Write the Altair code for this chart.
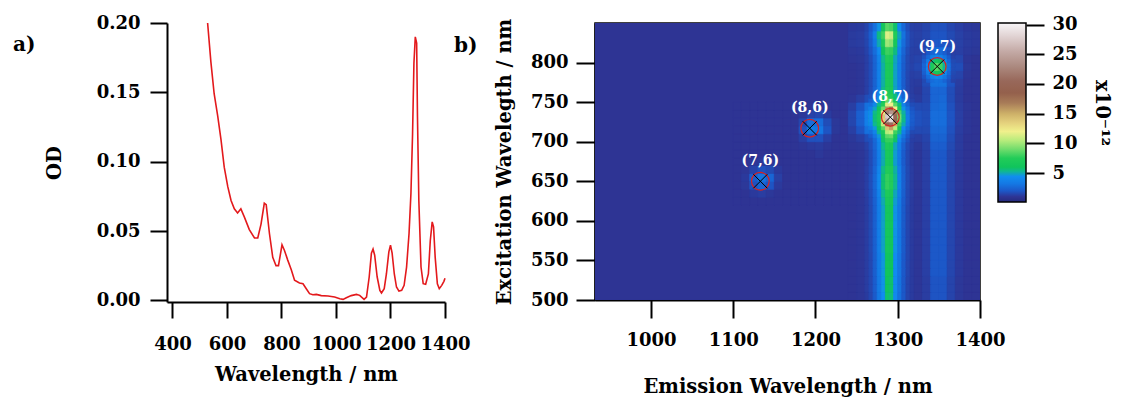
import altair as alt
import pandas as pd

SERIF = "DejaVu Serif"

# ---------------- panel a: absorption spectrum ----------------
abs_nm = [529, 541, 553, 566, 578, 590, 603, 615, 627, 639, 651, 664, 682, 701, 713,
          725, 737, 744, 756, 768, 780, 789, 802, 811, 823, 836, 848, 866, 879, 891,
          903, 915, 928, 946, 971, 995, 1014, 1026, 1038, 1056, 1075, 1087, 1103, 1112,
          1122, 1130, 1136, 1142, 1151, 1161, 1167, 1177, 1185, 1194, 1200, 1206, 1214,
          1222, 1231, 1241, 1250, 1259, 1268, 1275, 1281, 1286, 1291, 1296, 1299, 1304,
          1312, 1320, 1329, 1339, 1346, 1353, 1358, 1364, 1372, 1379, 1388, 1396, 1400]
abs_od = [0.200, 0.172, 0.149, 0.133, 0.116, 0.096, 0.082, 0.072, 0.066, 0.063, 0.066,
          0.060, 0.051, 0.045, 0.045, 0.055, 0.070, 0.069, 0.048, 0.031, 0.025, 0.025,
          0.040, 0.036, 0.029, 0.022, 0.0145, 0.0125, 0.012, 0.0084, 0.0048, 0.0040,
          0.0043, 0.0034, 0.0031, 0.0024, 0.0012, 0.0007, 0.0019, 0.0034, 0.0043, 0.0036,
          0.0007, 0.0024, 0.017, 0.034, 0.037, 0.0325, 0.017, 0.0072, 0.0053, 0.0084,
          0.019, 0.035, 0.0398, 0.034, 0.019, 0.0096, 0.0067, 0.0072, 0.0108, 0.024,
          0.048, 0.077, 0.120, 0.171, 0.190, 0.1855, 0.1325, 0.072, 0.024, 0.012, 0.0116,
          0.019, 0.043, 0.0566, 0.053, 0.031, 0.012, 0.0084, 0.0108, 0.0137, 0.016]

# ---------------- panel b: PL excitation/emission map ----------------
map_em_range = [932, 1400]
map_ex_range = [500, 850]
background_level = 1.0

# weak (7,6) and (8,6) spots
spot_em_edges = [1100, 1110, 1120, 1130, 1140, 1150, 1160, 1170, 1180, 1190, 1200,
                 1210, 1220, 1230, 1240]
spot_ex_edges = [620, 630, 640, 650, 660, 670, 680, 690, 700, 710, 720, 730, 740, 750]
spot_levels = [
    [1.0, 1.0, 1.0, 1.0, 1.0, 1.0, 1.0, 1.0, 1.0, 1.0, 1.0, 1.0, 1.0, 1.0],
    [1.0, 1.0, 1.15, 1.25, 1.1, 1.0, 1.0, 1.0, 1.0, 1.0, 1.0, 1.0, 1.0, 1.0],
    [1.0, 1.1, 1.8, 2.5, 1.9, 1.15, 1.0, 1.0, 1.0, 1.0, 1.0, 1.0, 1.0, 1.0],
    [1.0, 1.15, 2.2, 3.1, 2.5, 1.3, 1.0, 1.0, 1.0, 1.0, 1.0, 1.0, 1.0, 1.0],
    [1.0, 1.05, 1.4, 1.8, 1.6, 1.15, 1.0, 1.0, 1.0, 1.0, 1.0, 1.0, 1.0, 1.0],
    [1.0, 1.0, 1.05, 1.1, 1.1, 1.0, 1.0, 1.0, 1.0, 1.0, 1.0, 1.0, 1.0, 1.0],
    [1.0, 1.0, 1.0, 1.0, 1.0, 1.0, 1.0, 1.0, 1.0, 1.0, 1.1, 1.0, 1.0, 1.0],
    [1.0, 1.0, 1.0, 1.0, 1.0, 1.0, 1.0, 1.0, 1.05, 1.15, 1.2, 1.05, 1.0, 1.0],
    [1.0, 1.0, 1.0, 1.0, 1.0, 1.0, 1.0, 1.0, 1.3, 1.8, 1.8, 1.3, 1.0, 1.0],
    [1.0, 1.0, 1.0, 1.0, 1.0, 1.0, 1.0, 1.0, 1.8, 3.4, 3.2, 1.9, 1.1, 1.0],
    [1.0, 1.0, 1.0, 1.0, 1.0, 1.0, 1.0, 1.0, 1.5, 2.8, 2.8, 1.7, 1.1, 1.0],
    [1.0, 1.0, 1.0, 1.0, 1.0, 1.0, 1.0, 1.0, 1.1, 1.4, 1.5, 1.2, 1.0, 1.0],
    [1.0, 1.0, 1.0, 1.0, 1.0, 1.0, 1.0, 1.0, 1.0, 1.0, 1.0, 1.0, 1.0, 1.0],
]

# region with the bright emission columns near 1290 nm and 1350 nm
band_em_edges = [1240, 1250, 1260, 1265, 1270, 1275, 1280, 1285, 1290, 1295, 1300,
                 1305, 1310, 1315, 1320, 1330, 1340, 1350, 1360, 1370, 1380, 1390, 1400]
band_ex_edges = [500, 510, 520, 530, 540, 550, 560, 570, 580, 590, 600, 610, 620, 630,
                 640, 650, 660, 670, 680, 690, 700, 710, 720, 730, 740, 750, 760, 770,
                 780, 790, 800, 810, 820, 830, 840, 850]
band_levels = [
    [1.0, 1.05, 1.2, 1.5, 2.1, 3.2, 4.3, 5.8, 5.6, 4.1, 2.9, 2.0, 1.45, 1.2, 1.05, 1.25, 1.9, 1.9, 1.45, 1.1, 1.0, 1.0],
    [1.0, 1.05, 1.25, 1.55, 2.2, 3.3, 4.5, 6.0, 5.8, 4.2, 3.0, 2.0, 1.45, 1.2, 1.05, 1.25, 1.9, 1.9, 1.45, 1.1, 1.0, 1.0],
    [1.0, 1.05, 1.25, 1.55, 2.2, 3.3, 4.5, 6.0, 5.8, 4.2, 3.0, 2.0, 1.45, 1.2, 1.05, 1.25, 1.9, 1.9, 1.45, 1.1, 1.0, 1.0],
    [1.0, 1.05, 1.25, 1.55, 2.25, 3.4, 4.6, 6.2, 6.0, 4.3, 3.1, 2.05, 1.5, 1.2, 1.05, 1.3, 2.0, 2.0, 1.5, 1.15, 1.0, 1.0],
    [1.0, 1.05, 1.25, 1.55, 2.25, 3.4, 4.6, 6.2, 6.0, 4.3, 3.1, 2.05, 1.5, 1.2, 1.05, 1.3, 2.0, 2.0, 1.5, 1.15, 1.0, 1.0],
    [1.0, 1.05, 1.25, 1.55, 2.25, 3.4, 4.6, 6.2, 6.0, 4.3, 3.1, 2.05, 1.5, 1.2, 1.05, 1.3, 2.0, 2.0, 1.5, 1.15, 1.0, 1.0],
    [1.0, 1.05, 1.25, 1.6, 2.3, 3.5, 4.8, 6.5, 6.3, 4.5, 3.2, 2.1, 1.5, 1.2, 1.05, 1.3, 2.0, 2.0, 1.5, 1.15, 1.0, 1.0],
    [1.0, 1.05, 1.25, 1.6, 2.3, 3.5, 4.8, 6.5, 6.3, 4.5, 3.2, 2.1, 1.5, 1.2, 1.05, 1.3, 2.0, 2.0, 1.5, 1.15, 1.0, 1.0],
    [1.0, 1.05, 1.25, 1.6, 2.3, 3.5, 4.8, 6.5, 6.3, 4.5, 3.2, 2.1, 1.5, 1.2, 1.05, 1.3, 2.0, 2.0, 1.5, 1.15, 1.0, 1.0],
    [1.0, 1.05, 1.25, 1.6, 2.3, 3.5, 4.8, 6.5, 6.3, 4.5, 3.2, 2.1, 1.5, 1.2, 1.05, 1.3, 2.0, 2.0, 1.5, 1.15, 1.0, 1.0],
    [1.0, 1.05, 1.25, 1.6, 2.3, 3.5, 4.8, 6.5, 6.3, 4.5, 3.2, 2.1, 1.5, 1.2, 1.05, 1.3, 2.0, 2.0, 1.5, 1.15, 1.0, 1.0],
    [1.0, 1.05, 1.25, 1.6, 2.3, 3.5, 4.8, 6.5, 6.3, 4.5, 3.2, 2.1, 1.5, 1.2, 1.05, 1.3, 2.0, 2.0, 1.5, 1.15, 1.0, 1.0],
    [1.0, 1.05, 1.25, 1.65, 2.35, 3.6, 5.0, 6.8, 6.6, 4.7, 3.3, 2.15, 1.55, 1.2, 1.05, 1.3, 2.0, 2.0, 1.5, 1.15, 1.0, 1.0],
    [1.0, 1.05, 1.3, 1.7, 2.45, 3.8, 5.3, 7.2, 6.95, 4.9, 3.5, 2.25, 1.55, 1.25, 1.05, 1.3, 2.0, 2.0, 1.5, 1.15, 1.0, 1.0],
    [1.0, 1.05, 1.3, 1.75, 2.6, 4.1, 5.7, 7.8, 7.5, 5.3, 3.7, 2.35, 1.6, 1.25, 1.05, 1.3, 2.0, 2.0, 1.5, 1.15, 1.0, 1.0],
    [1.0, 1.05, 1.3, 1.75, 2.6, 4.1, 5.7, 7.8, 7.5, 5.3, 3.7, 2.35, 1.6, 1.25, 1.05, 1.3, 2.0, 2.0, 1.5, 1.15, 1.0, 1.0],
    [1.0, 1.05, 1.3, 1.7, 2.5, 3.9, 5.4, 7.4, 7.2, 5.1, 3.6, 2.3, 1.6, 1.25, 1.05, 1.3, 2.0, 2.0, 1.5, 1.15, 1.0, 1.0],
    [1.0, 1.05, 1.25, 1.65, 2.35, 3.6, 5.0, 6.8, 6.6, 4.7, 3.3, 2.15, 1.55, 1.2, 1.05, 1.3, 2.0, 2.0, 1.5, 1.15, 1.0, 1.0],
    [1.0, 1.05, 1.25, 1.65, 2.35, 3.6, 5.0, 6.8, 6.6, 4.7, 3.3, 2.15, 1.55, 1.2, 1.05, 1.3, 2.0, 2.0, 1.5, 1.15, 1.0, 1.0],
    [1.05, 1.1, 1.35, 1.75, 2.5, 3.8, 5.3, 7.2, 6.95, 4.9, 3.5, 2.3, 1.6, 1.3, 1.1, 1.35, 2.2, 2.2, 1.6, 1.2, 1.0, 1.0],
    [1.1, 1.3, 1.7, 2.3, 3.2, 4.4, 6.0, 8.4, 8.4, 6.0, 4.2, 2.8, 2.0, 1.5, 1.25, 1.45, 2.4, 2.4, 1.7, 1.2, 1.0, 1.0],
    [1.3, 1.9, 2.9, 4.0, 5.2, 6.4, 9.5, 14.0, 15.0, 10.5, 6.8, 4.6, 3.2, 2.2, 1.6, 1.6, 2.6, 2.6, 1.8, 1.25, 1.05, 1.0],
    [1.5, 2.3, 3.6, 4.8, 6.0, 7.5, 14.0, 24.0, 26.0, 18.0, 9.5, 5.8, 4.0, 2.7, 1.8, 1.7, 2.8, 2.8, 1.9, 1.3, 1.05, 1.0],
    [1.5, 2.3, 3.6, 4.8, 6.0, 7.8, 15.5, 27.0, 29.5, 21.0, 10.5, 6.0, 4.0, 2.7, 1.8, 1.7, 2.8, 2.8, 1.9, 1.3, 1.05, 1.0],
    [1.3, 1.9, 2.9, 4.0, 5.2, 6.5, 9.5, 14.5, 15.5, 11.0, 7.0, 4.6, 3.2, 2.2, 1.6, 1.6, 2.6, 2.7, 1.8, 1.25, 1.05, 1.0],
    [1.05, 1.3, 1.7, 2.3, 3.2, 4.3, 6.0, 8.0, 8.0, 5.8, 4.0, 2.7, 1.9, 1.4, 1.2, 1.5, 2.5, 2.6, 1.7, 1.2, 1.0, 1.0],
    [1.0, 1.05, 1.3, 1.7, 2.45, 3.8, 5.3, 7.2, 6.95, 4.9, 3.5, 2.25, 1.55, 1.25, 1.1, 1.5, 2.5, 2.5, 1.7, 1.2, 1.0, 1.0],
    [1.0, 1.05, 1.3, 1.65, 2.4, 3.7, 5.1, 7.0, 6.8, 4.8, 3.4, 2.2, 1.55, 1.25, 1.2, 1.7, 3.0, 3.0, 1.9, 1.25, 1.0, 1.0],
    [1.0, 1.05, 1.3, 1.65, 2.4, 3.7, 5.1, 7.0, 6.8, 4.8, 3.4, 2.2, 1.55, 1.3, 1.35, 2.4, 5.4, 5.6, 2.8, 1.45, 1.05, 1.0],
    [1.0, 1.05, 1.3, 1.65, 2.4, 3.7, 5.1, 7.0, 6.8, 4.8, 3.4, 2.2, 1.6, 1.4, 1.55, 3.4, 8.4, 8.6, 3.8, 1.7, 1.1, 1.0],
    [1.05, 1.1, 1.3, 1.7, 2.45, 3.8, 5.3, 7.3, 7.0, 4.9, 3.5, 2.25, 1.6, 1.35, 1.45, 2.6, 5.8, 6.0, 3.0, 1.5, 1.05, 1.0],
    [1.1, 1.15, 1.4, 1.9, 2.8, 4.3, 6.0, 8.0, 7.8, 5.5, 3.9, 2.5, 1.7, 1.35, 1.3, 1.7, 2.8, 2.8, 1.9, 1.3, 1.15, 1.1],
    [1.2, 1.25, 1.5, 2.1, 3.2, 5.0, 7.2, 10.0, 9.6, 6.6, 4.5, 2.8, 1.85, 1.45, 1.35, 1.5, 2.0, 2.0, 1.6, 1.35, 1.2, 1.15],
    [1.2, 1.25, 1.55, 2.2, 3.5, 5.5, 8.0, 11.5, 11.0, 7.4, 4.9, 3.0, 1.9, 1.45, 1.35, 1.5, 1.9, 1.9, 1.6, 1.35, 1.2, 1.15],
    [1.15, 1.2, 1.45, 2.0, 2.9, 4.5, 6.3, 8.5, 8.2, 5.8, 4.1, 2.6, 1.75, 1.35, 1.3, 1.45, 1.8, 1.8, 1.5, 1.3, 1.15, 1.1],
]

# finer readings around the (8,7) maximum
p87_em_edges = [1265, 1270, 1275, 1280, 1285, 1290, 1295, 1300, 1305, 1310, 1315, 1320]
p87_ex_edges = [700, 705, 710, 715, 720, 725, 730, 735, 740, 745, 750, 755, 760]
p87_levels = [
    [1.8, 2.6, 4.0, 5.8, 7.8, 7.8, 5.8, 4.0, 2.6, 1.8, 1.3],
    [2.2, 3.1, 4.6, 6.4, 8.6, 8.8, 6.6, 4.6, 3.0, 2.0, 1.4],
    [2.8, 3.8, 5.3, 7.0, 10.5, 11.0, 8.0, 5.4, 3.6, 2.4, 1.6],
    [3.4, 4.6, 6.0, 8.5, 14.0, 15.5, 10.5, 6.5, 4.3, 2.8, 1.9],
    [4.0, 5.3, 6.8, 11.0, 19.5, 21.0, 15.0, 8.0, 5.0, 3.2, 2.1],
    [4.3, 5.6, 7.2, 13.5, 26.0, 28.5, 19.5, 9.0, 5.4, 3.4, 2.2],
    [4.3, 5.6, 7.2, 14.0, 27.5, 30.0, 20.5, 9.2, 5.4, 3.4, 2.2],
    [4.1, 5.4, 6.9, 12.0, 22.0, 24.0, 17.0, 8.4, 5.1, 3.3, 2.1],
    [3.6, 4.8, 6.2, 9.0, 16.0, 17.5, 12.0, 7.0, 4.5, 2.9, 1.9],
    [2.9, 3.9, 5.4, 7.4, 11.5, 12.0, 8.6, 5.6, 3.7, 2.4, 1.7],
    [2.2, 3.0, 4.5, 6.2, 8.8, 9.0, 6.6, 4.5, 3.0, 2.0, 1.4],
    [1.8, 2.6, 4.0, 5.6, 7.6, 7.5, 5.6, 3.9, 2.5, 1.7, 1.3],
]

# finer readings around the (9,7) maximum
p97_em_edges = [1330, 1335, 1340, 1345, 1350, 1355, 1360, 1365, 1370]
p97_ex_edges = [775, 780, 785, 790, 795, 800, 805, 810, 815]
p97_levels = [
    [1.6, 2.2, 2.8, 3.0, 2.9, 2.5, 1.9, 1.4],
    [1.9, 2.8, 3.8, 4.2, 4.0, 3.2, 2.2, 1.5],
    [2.3, 3.6, 5.6, 6.6, 6.2, 4.3, 2.6, 1.6],
    [2.5, 4.2, 7.2, 8.6, 8.0, 5.2, 2.9, 1.7],
    [2.5, 4.2, 7.2, 8.6, 8.0, 5.2, 2.9, 1.7],
    [2.2, 3.5, 5.4, 6.4, 6.0, 4.2, 2.5, 1.6],
    [1.8, 2.6, 3.6, 4.0, 3.8, 3.0, 2.1, 1.4],
    [1.5, 2.0, 2.5, 2.7, 2.6, 2.2, 1.7, 1.3],
]

# assigned (n,m) species
peak_names = ["(7,6)", "(8,6)", "(8,7)", "(9,7)"]
peak_em = [1133, 1193, 1291, 1348]
peak_ex = [650, 717, 731, 795]

# colour table of the intensity scale (x10^-12)
cmap_levels = [0.12, 1.0, 2.0, 3.2, 4.4, 5.3, 6.0, 7.5, 9.0, 10.5, 12.0, 13.5, 15.0,
               16.8, 18.5, 20.5, 23.0, 25.5, 28.0, 30.27]
cmap_colors = ["#252b7c", "#2e3494", "#1c58c8", "#1478e4", "#108ef0", "#10b890",
               "#10c45c", "#22cc58", "#70dc6c", "#b8ec7c", "#f0f08c", "#e4d07c",
               "#cdb068", "#a87c58", "#94604c", "#98685a", "#ac8a80", "#c4aaa6",
               "#e0d2d2", "#f8f6f8"]
cbar_ticks = [5, 10, 15, 20, 25, 30]


def grid_cells(em_edges, ex_edges, levels):
    out = []
    for i, row in enumerate(levels):
        for j, v in enumerate(row):
            out.append({"em0": em_edges[j], "em1": em_edges[j + 1],
                        "ex0": ex_edges[i], "ex1": ex_edges[i + 1], "level": v})
    return out


cells = [{"em0": map_em_range[0], "em1": map_em_range[1],
          "ex0": map_ex_range[0], "ex1": map_ex_range[1], "level": background_level}]
cells += grid_cells(spot_em_edges, spot_ex_edges, spot_levels)
cells += grid_cells(band_em_edges, band_ex_edges, band_levels)
cells += grid_cells(p87_em_edges, p87_ex_edges, p87_levels)
cells += grid_cells(p97_em_edges, p97_ex_edges, p97_levels)
cells_df = pd.DataFrame(cells)

peaks_df = pd.DataFrame({"name": peak_names, "em": peak_em, "ex": peak_ex})
spec_df = pd.DataFrame({"nm": abs_nm, "od": abs_od})

color_scale = alt.Scale(domain=cmap_levels, range=cmap_colors, interpolate="rgb",
                        clamp=True)

LETTER = dict(anchor="start", frame="group", font=SERIF, fontSize=20,
              fontWeight="bold", color="black")

# ---------------- panel a ----------------
panel_a = alt.Chart(
    spec_df, title=alt.TitleParams("a)", dx=-154, dy=45, **LETTER),
).mark_line(color="#e3191c", strokeWidth=1.6).encode(
    x=alt.X("nm:Q", scale=alt.Scale(domain=[380, 1400], nice=False, zero=False),
            axis=alt.Axis(values=[400, 600, 800, 1000, 1200, 1400], format="d",
                          title="Wavelength / nm", tickSize=16, labelPadding=17,
                          titlePadding=12)),
    y=alt.Y("od:Q", scale=alt.Scale(domain=[-0.0012, 0.2], nice=False, zero=False),
            axis=alt.Axis(values=[0, 0.05, 0.1, 0.15, 0.2], format=".2f", title="OD",
                          tickSize=17, labelPadding=10, titlePadding=32)),
).properties(width=278, height=279)

# ---------------- panel b ----------------
xs = alt.Scale(domain=map_em_range, nice=False, zero=False)
ys = alt.Scale(domain=map_ex_range, nice=False, zero=False)
x_axis = alt.Axis(values=[1000, 1100, 1200, 1300, 1400], format="d",
                  title="Emission Wavelength / nm", tickSize=18, labelPadding=13,
                  titlePadding=28)
y_axis = alt.Axis(values=[500, 550, 600, 650, 700, 750, 800],
                  title="Excitation Wavelegth / nm", tickSize=19, labelPadding=8,
                  titlePadding=16)

heat = alt.Chart(cells_df).mark_rect(clip=True, strokeWidth=0.8).encode(
    x=alt.X("em0:Q", scale=xs, axis=x_axis),
    x2="em1:Q",
    y=alt.Y("ex0:Q", scale=ys, axis=y_axis),
    y2="ex1:Q",
    color=alt.Color("level:Q", scale=color_scale, legend=None),
    stroke=alt.Stroke("level:Q", scale=color_scale, legend=None),
)
rings = alt.Chart(peaks_df).mark_point(shape="circle", size=314, filled=False,
                                       color="#d42424", strokeWidth=1.2, opacity=1).encode(
    x=alt.X("em:Q", scale=xs, axis=x_axis), y=alt.Y("ex:Q", scale=ys, axis=y_axis))
crosses = alt.Chart(peaks_df).mark_point(shape="M-1,-1L1,1M-1,1L1,-1", size=196,
                                         filled=False, color="black", strokeWidth=1,
                                         opacity=1).encode(
    x=alt.X("em:Q", scale=xs, axis=x_axis), y=alt.Y("ex:Q", scale=ys, axis=y_axis))
tags = alt.Chart(peaks_df).mark_text(dy=-20, color="white", font=SERIF, fontSize=14,
                                     fontWeight="bold").encode(
    x=alt.X("em:Q", scale=xs, axis=x_axis), y=alt.Y("ex:Q", scale=ys, axis=y_axis),
    text="name:N")

panel_b = alt.layer(
    heat, rings, crosses, tags,
    title=alt.TitleParams("b)", dx=-141, dy=42, **LETTER),
).properties(width=385, height=277,
             view=alt.ViewBackground(stroke="black", strokeWidth=1.5))

# ---------------- colour bar ----------------
lo, hi = cmap_levels[0], cmap_levels[-1]
gradient = alt.LinearGradient(
    gradient="linear",
    stops=[alt.GradientStop(offset=(v - lo) / (hi - lo), color=c)
           for v, c in zip(cmap_levels, cmap_colors)],
    x1=0, x2=0, y1=1, y2=0,
)
cbar_df = pd.DataFrame({"lo": [lo], "hi": [hi]})
cbar = alt.Chart(cbar_df).mark_rect(color=gradient, stroke="black", strokeWidth=1.5).encode(
    y=alt.Y("lo:Q", scale=alt.Scale(domain=[lo, hi], nice=False, zero=False),
            axis=alt.Axis(orient="right", values=cbar_ticks, title="x10⁻¹²", domain=False,
                          tickSize=18, labelPadding=8, titlePadding=14, titleAngle=90)),
    y2="hi:Q",
).properties(width=28, height=179)

chart = alt.hconcat(
    panel_a,
    alt.hconcat(panel_b, cbar, spacing=18, bounds="flush"),
    spacing=150, bounds="flush",
).properties(
    padding={"left": 12, "top": 13, "right": 5, "bottom": 5},
).configure_view(
    stroke="transparent"
).configure_axis(
    labelFont=SERIF, labelFontSize=18, labelFontWeight="bold", labelColor="black",
    titleFont=SERIF, titleFontSize=19.5, titleFontWeight="bold", titleColor="black",
    tickColor="black", domainColor="black", tickWidth=2, domainWidth=2,
    grid=False, labelFlush=False, labelOverlap=False,
).configure_title(font=SERIF)

chart.save("out.html", embed_options={"renderer": "svg", "actions": False})
